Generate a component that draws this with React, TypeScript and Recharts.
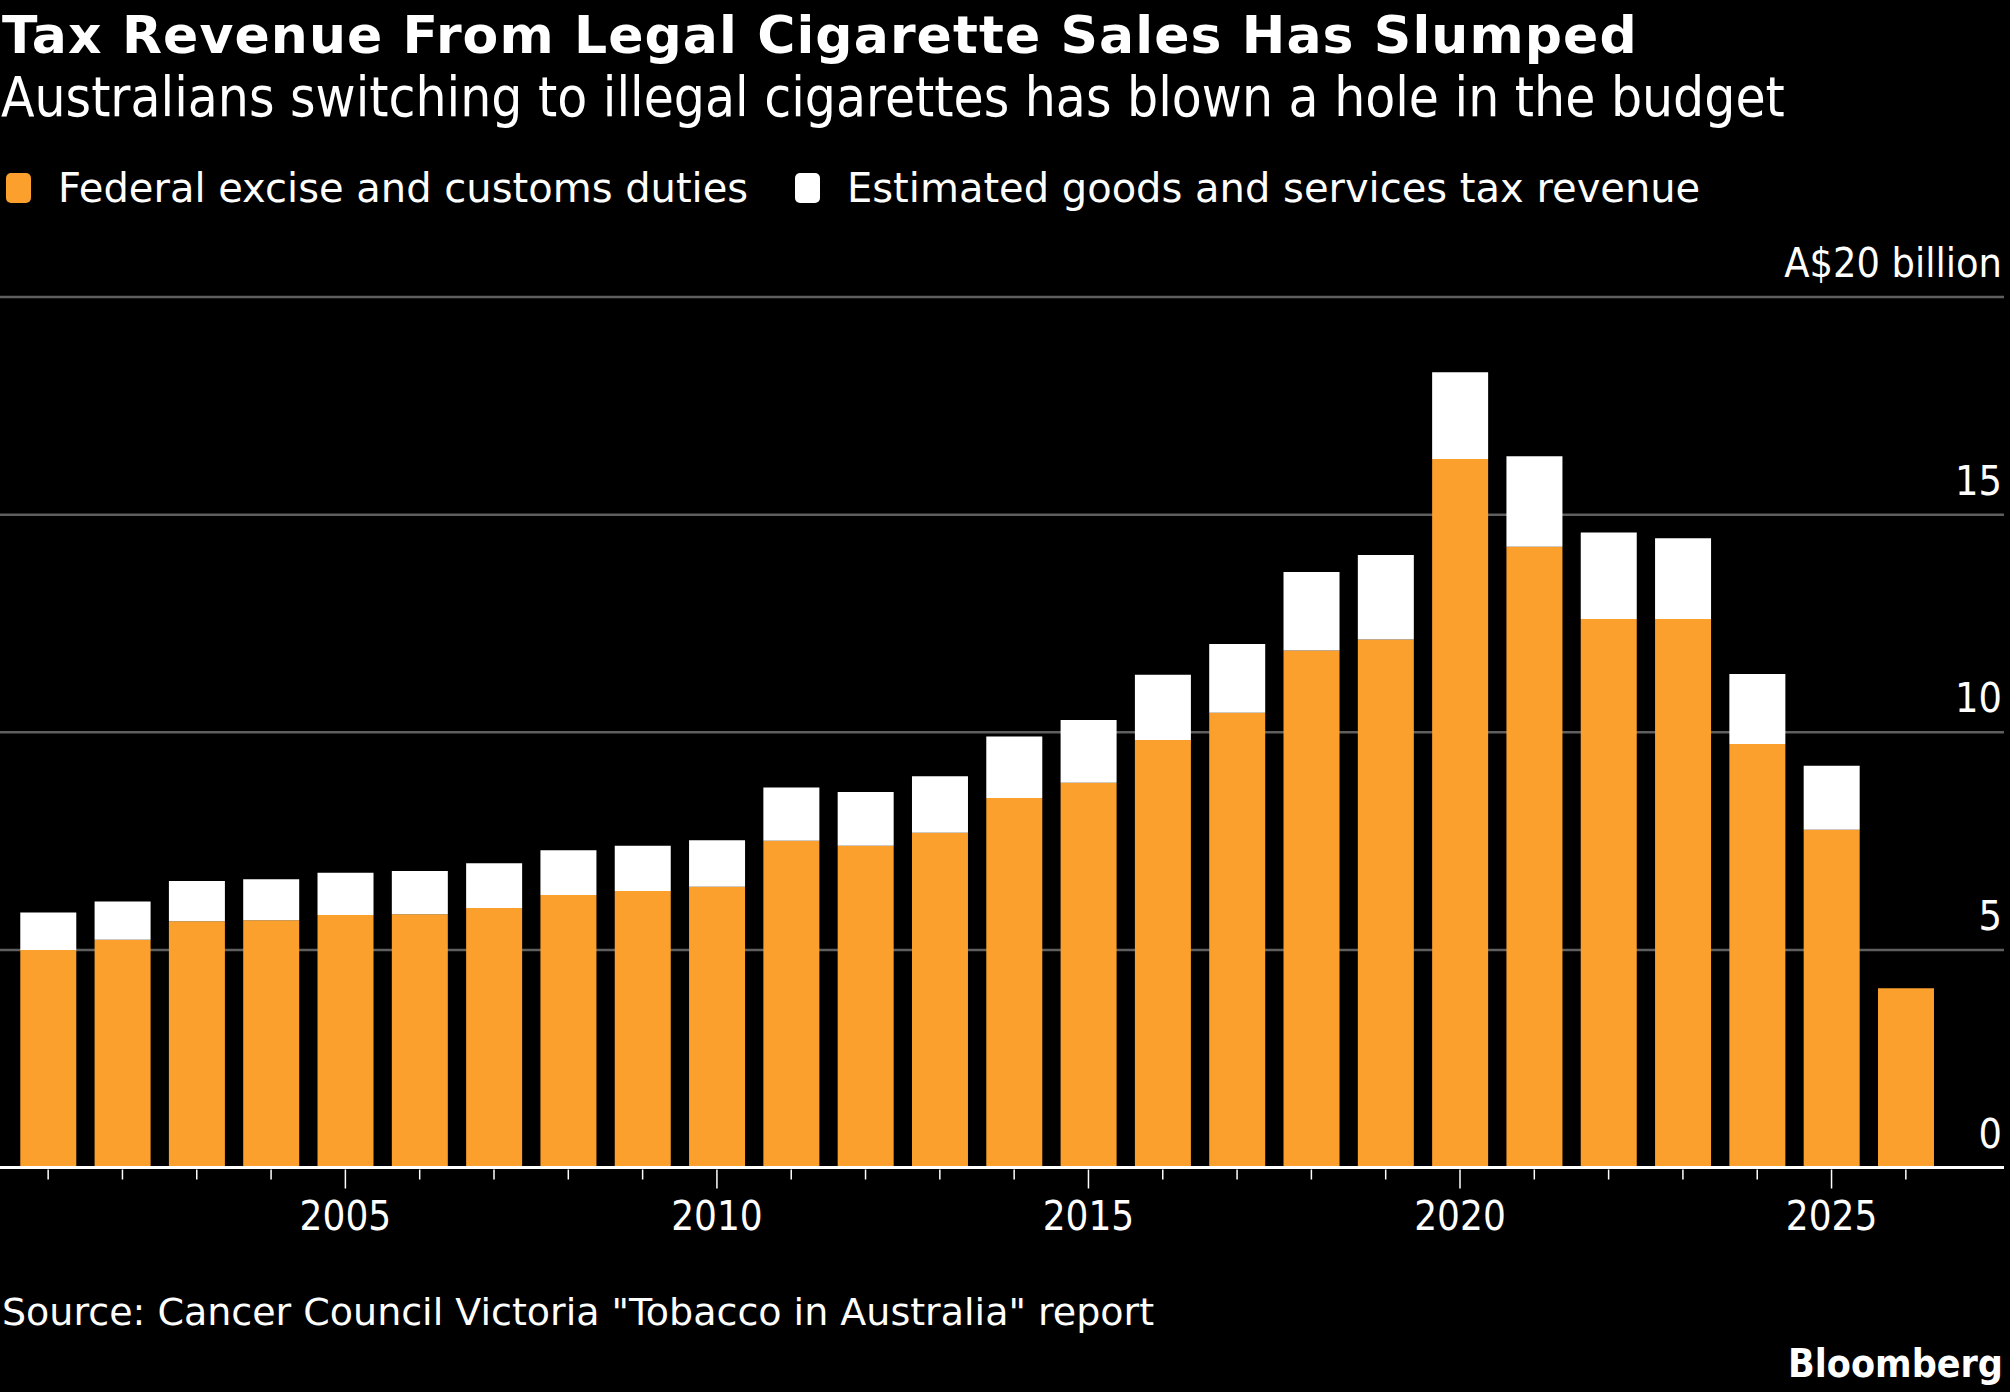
import { BarChart, Bar, XAxis, YAxis, CartesianGrid, ReferenceLine } from "recharts";

// Fiscal years and revenue, A$ billion
const years = [
  2001, 2002, 2003, 2004, 2005, 2006, 2007, 2008, 2009, 2010, 2011, 2012, 2013,
  2014, 2015, 2016, 2017, 2018, 2019, 2020, 2021, 2022, 2023, 2024, 2025, 2026,
];
const exciseDuties = [
  5.0, 5.23, 5.66, 5.68, 5.8, 5.82, 5.96, 6.26, 6.35, 6.45, 7.51, 7.39, 7.69,
  8.49, 8.84, 9.82, 10.45, 11.88, 12.13, 16.28, 14.26, 12.6, 12.6, 9.73, 7.76, 4.12,
];
const gstRevenue = [
  0.86, 0.88, 0.92, 0.94, 0.97, 0.99, 1.03, 1.03, 1.04, 1.07, 1.22, 1.24, 1.3,
  1.41, 1.44, 1.5, 1.58, 1.8, 1.94, 1.99, 2.08, 1.99, 1.86, 1.61, 1.47, null,
];
const yTicks = [0, 5, 10, 15, 20];
const majorYears = [2005, 2010, 2015, 2020, 2025];

const data = years.map((year, i) => ({
  year,
  excise: exciseDuties[i],
  gst: gstRevenue[i],
}));

const ORANGE = "#FBA02C";
const FONT = "'DejaVu Sans', sans-serif";
const condensed = { fontStretch: "condensed" as const };

function YearTick(props: any) {
  const { x, y, payload } = props;
  const major = majorYears.includes(payload.value);
  return (
    <g>
      <line x1={x} x2={x} y1={y + 2} y2={y + (major ? 21 : 12)} stroke="#ffffff" strokeWidth={1.5} />
      {major && (
        <text x={x} y={y + 62} textAnchor="middle" fill="#ffffff" fontSize={40} fontFamily={FONT} style={condensed}>
          {payload.value}
        </text>
      )}
    </g>
  );
}

function ValueTick(props: any) {
  const { x, y, payload } = props;
  return (
    <text x={x - 2} y={y - 20} textAnchor="end" fill="#ffffff" fontSize={41} fontFamily={FONT} style={condensed}>
      {payload.value === 20 ? "A$20 billion" : payload.value}
    </text>
  );
}

export default function App() {
  return (
    <div
      style={{
        position: "absolute",
        top: 0,
        left: 0,
        width: 2010,
        height: 1392,
        background: "#000000",
        overflow: "hidden",
      }}
    >
      <BarChart
        width={2010}
        height={1392}
        data={data}
        margin={{ top: 297, right: 5, bottom: 144.5, left: 0 }}
        barCategoryGap="12.5%"
        style={{ position: "absolute", top: 0, left: 0 }}
      >
        <CartesianGrid vertical={false} stroke="#5f5f5f" strokeWidth={2.5} />
        <XAxis
          dataKey="year"
          height={80}
          interval={0}
          axisLine={false}
          tickLine={false}
          tickSize={0}
          tickMargin={0}
          padding={{ left: 11, right: 61 }}
          tick={<YearTick />}
        />
        <YAxis
          orientation="right"
          width={1}
          domain={[0, 20]}
          ticks={yTicks}
          interval={0}
          axisLine={false}
          tickLine={false}
          tickSize={0}
          tickMargin={0}
          tick={<ValueTick />}
        />
        <Bar dataKey="excise" stackId="a" fill={ORANGE} isAnimationActive={false} />
        <Bar dataKey="gst" stackId="a" fill="#ffffff" isAnimationActive={false} />
        <ReferenceLine y={0} stroke="#ffffff" strokeWidth={3} />
      </BarChart>

      <svg width={2010} height={1392} style={{ position: "absolute", top: 0, left: 0, pointerEvents: "none" }}>
        <g fontFamily={FONT} fill="#ffffff">
          <text x={2} y={53} fontSize={52} fontWeight="bold" letterSpacing={1.1}>
            Tax Revenue From Legal Cigarette Sales Has Slumped
          </text>
          <text x={1} y={116} fontSize={54.5} style={condensed}>
            Australians switching to illegal cigarettes has blown a hole in the budget
          </text>

          <rect x={6} y={173} width={25} height={30} rx={5} fill={ORANGE} />
          <text x={58} y={202} fontSize={40}>
            Federal excise and customs duties
          </text>
          <rect x={795} y={173} width={25} height={30} rx={5} fill="#ffffff" />
          <text x={847} y={202} fontSize={40}>
            Estimated goods and services tax revenue
          </text>

          <text x={2} y={1325} fontSize={38}>
            Source: Cancer Council Victoria "Tobacco in Australia" report
          </text>
          <text x={2003} y={1377} fontSize={39} fontWeight="bold" textAnchor="end" style={condensed}>
            Bloomberg
          </text>
        </g>
      </svg>
    </div>
  );
}
